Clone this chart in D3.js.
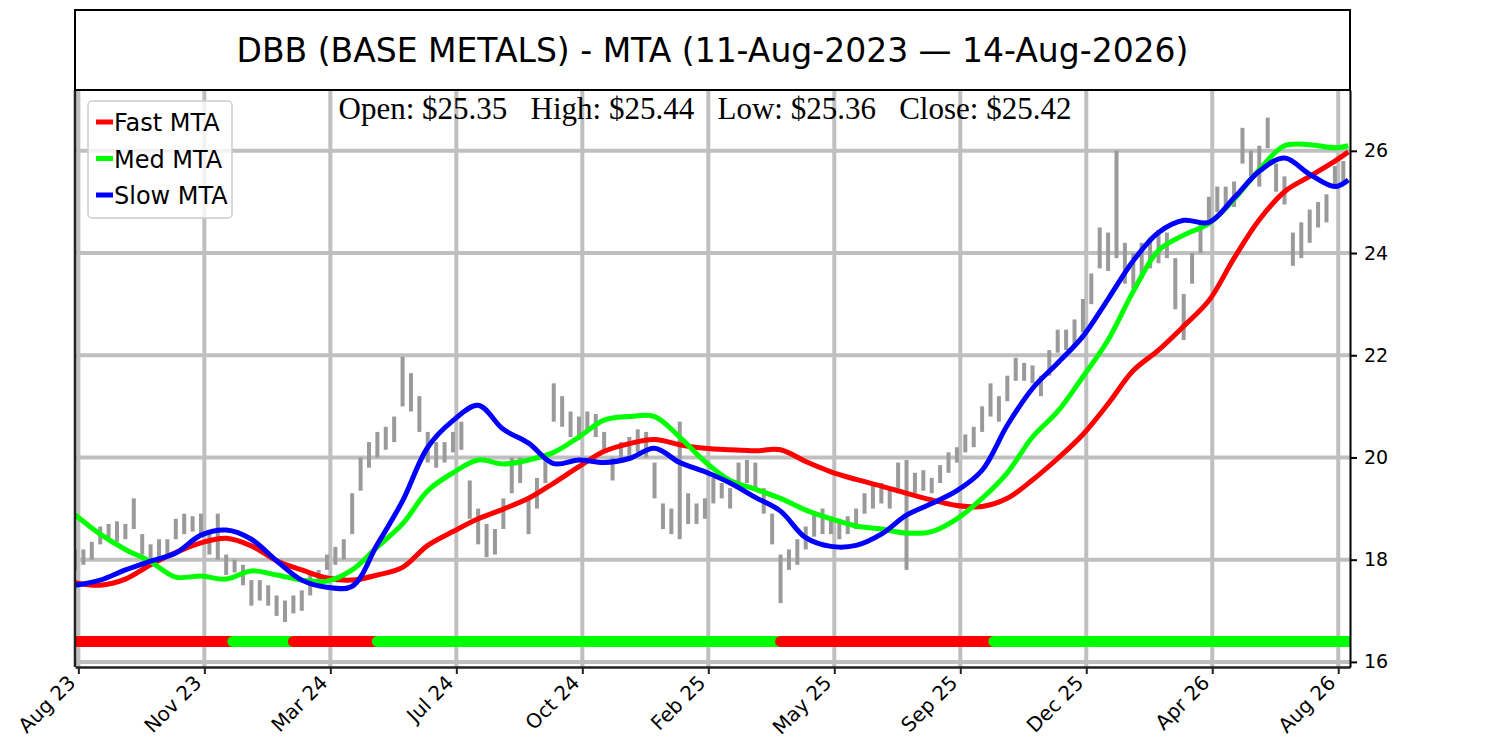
<!DOCTYPE html>
<html>
<head>
<meta charset="utf-8">
<script src="https://cdn.jsdelivr.net/npm/d3@7"></script>
<style>
  body { margin: 0; background: #fff; }
  text { font-family: "DejaVu Sans", sans-serif; }
  text.serif { font-family: "Liberation Serif", "DejaVu Serif", serif; }
</style>
</head>
<body>
<svg id="chart" width="1500" height="750"></svg>
<script>
// weekly bar ranges (one entry per 5 trading days)
var barStep = 5;
var barLow = [
  17.8, 17.9, 18.0, 18.3, 18.4, 18.35, 18.4, 18.6, 18.1, 17.95,
  18.0, 18.1, 18.4, 18.5, 18.55, 18.5, 18.1, 18.0, 17.7, 17.75,
  17.5, 17.1, 17.2, 17.1, 16.9, 16.78, 16.95, 17.0, 17.3, 17.5,
  17.8, 17.9, 18.0, 18.5, 19.35, 19.8, 20.0, 20.15, 20.3, 21.0,
  20.9, 20.5, 19.9, 19.8, 19.9, 20.1, 20.15, 18.8, 18.3, 18.05,
  18.1, 18.6, 19.3, 19.5, 18.5, 19.0, 19.5, 20.7, 20.6, 20.4,
  20.35, 20.5, 20.4, 20.15, 19.55, 19.9, 20.0, 20.1, 20.0, 19.2,
  18.6, 18.5, 18.4, 18.7, 18.7, 18.8, 19.1, 19.2, 19.0, 19.5,
  19.5, 19.4, 18.9, 18.3, 17.15, 17.8, 17.9, 18.2, 18.45, 18.5,
  18.5, 18.4, 18.5, 18.6, 18.9, 19.0, 19.1, 19.0, 19.3, 17.8,
  19.3, 19.35, 19.3, 19.5, 19.7, 19.9, 20.1, 20.2, 20.5, 20.8,
  20.7, 21.1, 21.5, 21.5, 21.45, 21.2, 21.6, 22.05, 22.1, 22.2,
  22.45, 23.0, 23.7, 23.65, 23.9, 23.4, 23.3, 23.5, 23.7, 23.8,
  23.9, 22.9, 22.3, 23.4, 24.0, 24.65, 24.8, 24.85, 24.9, 25.75,
  25.5, 25.3, 26.05, 25.2, 24.95, 23.75, 23.9, 24.2, 24.5, 24.6,
  25.3, 25.35
];
var barHigh = [
  18.2, 18.2, 18.35, 18.65, 18.7, 18.75, 18.7, 19.2, 18.5, 18.3,
  18.4, 18.4, 18.8, 18.9, 18.85, 18.9, 18.5, 18.9, 18.1, 18.0,
  17.9, 17.6, 17.6, 17.5, 17.3, 17.2, 17.3, 17.4, 17.7, 17.8,
  18.1, 18.25, 18.4, 19.3, 20.0, 20.3, 20.5, 20.6, 20.8, 21.97,
  21.65, 21.2, 20.5, 20.3, 20.3, 20.5, 20.7, 19.55, 19.0, 18.7,
  18.6, 19.2, 20.0, 20.0, 19.2, 19.6, 20.0, 21.45, 21.2, 20.9,
  20.8, 20.9, 20.85, 20.5, 20.0, 20.3, 20.4, 20.55, 20.5, 19.9,
  19.1, 19.0, 20.7, 19.3, 19.1, 19.2, 19.6, 19.5, 19.4, 19.9,
  19.95, 19.9, 19.4, 18.9, 18.1, 18.2, 18.4, 18.65, 18.9, 19.0,
  18.85, 18.8, 18.85, 19.0, 19.3, 19.5, 19.5, 19.4, 19.9, 19.95,
  19.7, 19.75, 19.6, 19.85, 20.1, 20.2, 20.45, 20.6, 21.0, 21.45,
  21.2, 21.6, 21.95, 21.85, 21.8, 21.6, 22.1, 22.5, 22.5, 22.7,
  23.1, 23.6, 24.5, 24.4, 26.0, 24.2, 24.0, 24.2, 24.3, 24.45,
  24.4, 23.9, 23.2, 24.0, 24.6, 25.1, 25.3, 25.3, 25.4, 26.45,
  26.0, 26.1, 26.65, 25.75, 25.5, 24.4, 24.6, 24.85, 25.0, 25.15,
  25.7, 25.8
];

// moving trend averages sampled every 15 bars
var mtaIdx = [0, 15, 30, 45, 60, 75, 90, 105, 120, 135, 150, 165, 180, 195, 210, 225,
  240, 255, 270, 285, 300, 315, 330, 345, 360, 375, 390, 405, 420, 435, 450, 465,
  480, 495, 510, 525, 540, 555, 570, 585, 600, 615, 630, 645, 660, 675, 690, 705,
  720, 735, 750, 758];
var fastMta = [17.55, 17.5, 17.62, 17.9, 18.14, 18.33, 18.42, 18.27, 17.98, 17.8,
  17.64, 17.6, 17.7, 17.85, 18.28, 18.55, 18.8, 18.99, 19.2, 19.5,
  19.82, 20.12, 20.27, 20.35, 20.25, 20.18, 20.15, 20.13, 20.15, 19.92,
  19.72, 19.57, 19.44, 19.3, 19.17, 19.06, 19.04, 19.2, 19.56, 19.98,
  20.45, 21.05, 21.7, 22.1, 22.57, 23.07, 23.9, 24.65, 25.2, 25.5,
  25.8, 25.98];
var medMta = [18.88, 18.5, 18.2, 17.96, 17.66, 17.68, 17.62, 17.78, 17.7, 17.6,
  17.58, 17.8, 18.25, 18.7, 19.35, 19.7, 19.95, 19.87, 19.95, 20.1,
  20.4, 20.73, 20.8, 20.8, 20.4, 19.92, 19.55, 19.38, 19.2, 18.97,
  18.8, 18.66, 18.6, 18.52, 18.55, 18.8, 19.2, 19.7, 20.4, 20.9,
  21.58, 22.3, 23.25, 24.05, 24.35, 24.58, 25.05, 25.63, 26.1, 26.12,
  26.06, 26.1];
var slowMta = [17.5, 17.6, 17.8, 17.97, 18.13, 18.48, 18.58, 18.4, 17.98, 17.6,
  17.46, 17.48, 18.3, 19.15, 20.2, 20.72, 21.02, 20.55, 20.28, 19.88,
  19.95, 19.9, 19.98, 20.18, 19.9, 19.72, 19.5, 19.22, 18.95, 18.43,
  18.26, 18.28, 18.5, 18.87, 19.1, 19.35, 19.75, 20.63, 21.35, 21.85,
  22.37, 23.1, 23.85, 24.4, 24.64, 24.6, 25.08, 25.6, 25.86, 25.54,
  25.3, 25.43];

// trend signal band
var signalStart = [0, 94, 130, 180, 420, 547];
var signalEnd = [94, 130, 180, 420, 547, 759];
var signalColor = ["#ff0000", "#00ff00", "#ff0000", "#00ff00", "#ff0000", "#00ff00"];
var signalLevel = 16.4;

var tickIdx = [2, 77, 152, 227, 302, 377, 452, 527, 602, 677, 752];
var tickLabels = ["Aug 23", "Nov 23", "Mar 24", "Jul 24", "Oct 24", "Feb 25",
  "May 25", "Sep 25", "Dec 25", "Apr 26", "Aug 26"];
var yTicks = [16, 18, 20, 22, 24, 26];

var ohlcNames = ["Open", "High", "Low", "Close"];
var ohlcValues = [25.35, 25.44, 25.36, 25.42];

var title = "DBB (BASE METALS) - MTA (11-Aug-2023 \u2014 14-Aug-2026)";
var seriesNames = ["Fast MTA", "Med MTA", "Slow MTA"];
var seriesColors = ["#ff0000", "#00ff00", "#0000ff"];

var L = 75, R = 1350, T = 90, B = 667;
var svg = d3.select("#chart");

var x = d3.scaleLinear().domain([0, 759]).range([L, R]);
var y = d3.scaleLinear().domain([15.9, 27.19]).range([B, T]);

svg.append("defs").append("clipPath").attr("id", "plot")
  .append("rect").attr("x", L).attr("y", T).attr("width", R - L).attr("height", B - T);

var plot = svg.append("g").attr("clip-path", "url(#plot)");

// grid
plot.selectAll(".hgrid").data(yTicks).enter().append("line")
  .attr("x1", L).attr("x2", R)
  .attr("y1", function(d) { return y(d); }).attr("y2", function(d) { return y(d); })
  .attr("stroke", "#bfbfbf").attr("stroke-width", 4);
plot.selectAll(".vgrid").data(tickIdx).enter().append("line")
  .attr("y1", T).attr("y2", B)
  .attr("x1", function(d) { return x(d); }).attr("x2", function(d) { return x(d); })
  .attr("stroke", "#bfbfbf").attr("stroke-width", 4);

// price bars
plot.selectAll(".bar").data(barLow).enter().append("rect")
  .attr("x", function(d, i) { return x(i * barStep) - 2; })
  .attr("width", 4)
  .attr("y", function(d, i) { return y(barHigh[i]); })
  .attr("height", function(d, i) { return y(d) - y(barHigh[i]); })
  .attr("fill", "#9a9a9a");

// MTA lines
var line = d3.line()
  .x(function(d, i) { return x(mtaIdx[i]); })
  .y(function(d) { return y(d); })
  .curve(d3.curveCatmullRom);
[fastMta, medMta, slowMta].forEach(function(s, k) {
  plot.append("path").attr("d", line(s))
    .attr("fill", "none").attr("stroke", seriesColors[k]).attr("stroke-width", 5);
});

// signal band
plot.selectAll(".sig").data(signalStart).enter().append("line")
  .attr("x1", function(d) { return x(d); })
  .attr("x2", function(d, i) { return x(signalEnd[i]); })
  .attr("y1", y(signalLevel)).attr("y2", y(signalLevel))
  .attr("stroke", function(d, i) { return signalColor[i]; })
  .attr("stroke-width", 11).attr("stroke-linecap", "round");

// axes
var xAxis = svg.append("g").attr("transform", "translate(0," + B + ")")
  .call(d3.axisBottom(x).tickValues(tickIdx)
    .tickFormat(function(d, i) { return tickLabels[i]; })
    .tickSize(7).tickSizeOuter(0));
xAxis.select(".domain").attr("stroke", "#222").attr("stroke-width", 2.5);
xAxis.selectAll(".tick line").attr("stroke", "#222").attr("stroke-width", 2);
xAxis.selectAll(".tick text")
  .attr("font-size", 20).attr("fill", "#000")
  .attr("text-anchor", "end").attr("dy", 0).attr("y", 0)
  .attr("transform", "translate(-2,17) rotate(-45)");

var yAxis = svg.append("g").attr("transform", "translate(" + R + ",0)")
  .call(d3.axisRight(y).tickValues(yTicks).tickSize(7).tickSizeOuter(0));
yAxis.select(".domain").attr("stroke", "#000").attr("stroke-width", 2);
yAxis.selectAll(".tick line").attr("stroke", "#000").attr("stroke-width", 2);
yAxis.selectAll(".tick text")
  .attr("font-size", 19).attr("fill", "#000").attr("x", 14);

svg.append("line").attr("x1", L).attr("x2", L).attr("y1", T).attr("y2", B)
  .attr("stroke", "#222").attr("stroke-width", 2.5);

// title box
svg.append("rect").attr("x", L).attr("y", 10).attr("width", R - L).attr("height", T - 10)
  .attr("fill", "#fff").attr("stroke", "#000").attr("stroke-width", 2);
svg.append("text").attr("x", (L + R) / 2).attr("y", 62)
  .attr("text-anchor", "middle").attr("font-size", 33).text(title);

// OHLC caption
svg.append("text").attr("class", "serif").attr("x", 705).attr("y", 119)
  .attr("text-anchor", "middle")
  .attr("font-size", 31).style("white-space", "pre")
  .text(ohlcNames.map(function(n, i) { return n + ": $" + ohlcValues[i].toFixed(2); }).join("   "));

// legend
var lg = svg.append("g");
lg.append("rect").attr("x", 88).attr("y", 101).attr("width", 144).attr("height", 117).attr("rx", 4)
  .attr("fill", "#fff").attr("fill-opacity", 0.8).attr("stroke", "#cccccc").attr("stroke-width", 1.5);
seriesNames.forEach(function(n, k) {
  var cy = 122 + k * 36.5;
  lg.append("line").attr("x1", 96).attr("x2", 113).attr("y1", cy).attr("y2", cy)
    .attr("stroke", seriesColors[k]).attr("stroke-width", 5);
  lg.append("text").attr("x", 114).attr("y", cy + 9).attr("font-size", 24).text(n);
});
</script>
</body>
</html>
